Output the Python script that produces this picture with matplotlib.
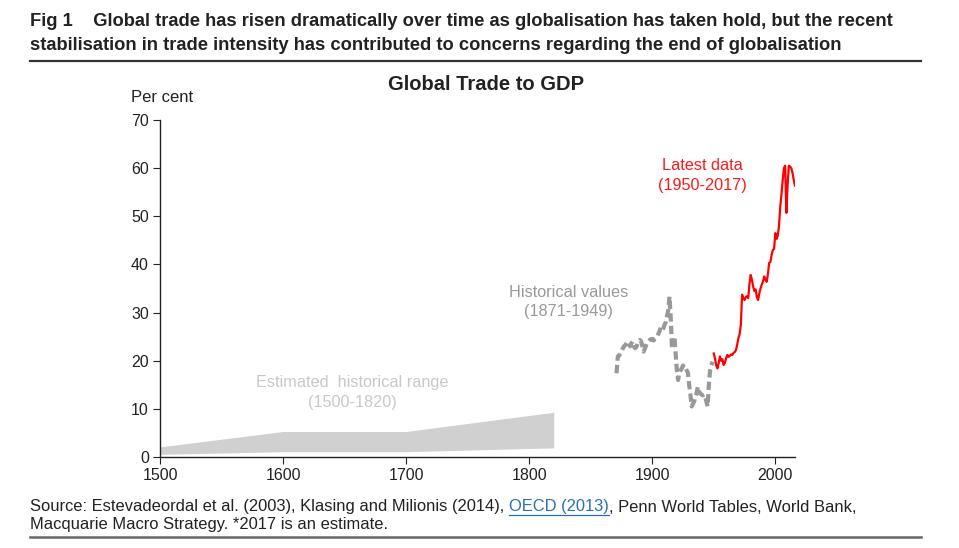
import numpy as np
import matplotlib
matplotlib.use("Agg")
import matplotlib.pyplot as plt
from matplotlib.lines import Line2D

plt.rcParams['font.family'] = ['Liberation Sans', 'DejaVu Sans']

# estimated historical range 1500-1820 (lower / upper bound)
range_years = [1500, 1600, 1700, 1820]
range_low = [0.55, 1.1, 1.1, 1.9]
range_high = [2.1, 5.3, 5.3, 9.3]

# historical values 1871-1949
hist_years = list(range(1871, 1950))
hist_vals = [17.4, 20.9, 21.0, 21.5, 21.9, 22.5, 23.0, 23.2, 23.6, 24.0,
             23.5, 23.0, 23.6, 24.0, 23.0, 22.6, 22.8, 23.5, 24.0, 24.3,
             24.0, 23.0, 21.9, 22.5, 23.2, 23.8, 24.0, 24.3, 24.5, 24.5,
             24.2, 24.5, 24.7, 25.0, 25.6, 26.2, 27.0, 26.5, 26.7, 27.5,
             28.0, 29.2, 30.5, 33.3, 29.0, 23.0, 22.5, 25.0, 21.5, 18.0,
             16.0, 17.5, 18.0, 18.4, 19.0, 18.5, 18.6, 18.0, 17.5, 15.0,
             13.0, 10.5, 11.0, 11.5, 12.5, 13.2, 14.6, 13.5, 13.2, 13.0,
             12.8, 13.0, 12.5, 11.5, 10.5, 15.0, 18.0, 19.0, 19.8]

# latest data 1950-2017
latest_years = list(range(1950, 2018))
latest_vals = [21.5, 20.5, 19.0, 18.4, 19.5, 20.9, 20.0, 20.3, 19.1, 19.6,
               20.5, 21.2, 20.8, 21.0, 21.3, 21.2, 21.6, 21.8, 22.2, 23.3,
               24.7, 25.5, 27.5, 33.7, 33.0, 32.6, 33.2, 33.4, 33.0, 36.0,
               37.8, 36.8, 35.4, 34.5, 34.8, 33.2, 32.6, 34.0, 35.0, 35.8,
               36.5, 37.5, 36.8, 36.4, 38.0, 40.3, 40.5, 42.0, 43.0, 43.2,
               46.5, 45.3, 46.0, 48.0, 52.0, 54.5, 57.5, 60.0, 60.5, 50.7,
               56.5, 60.5, 60.3, 60.0, 59.0, 57.5, 56.3, 56.8]

W, H = 959, 548
fig = plt.figure(figsize=(W / 100, H / 100), dpi=100)
ax = fig.add_axes([160 / W, (H - 457) / H, (795 - 160) / W, (457 - 120) / H])

ax.fill_between(range_years, range_low, range_high, color='#d0d0d0', lw=0)
ax.plot(hist_years, hist_vals, color='#999999', lw=3, ls=(0, (2, 1)))
ax.plot(latest_years, latest_vals, color='#ff0000', lw=1.6)

ax.set_xlim(1500, 2016)
ax.set_ylim(0, 70)
ax.set_xticks([1500, 1600, 1700, 1800, 1900, 2000])
ax.set_yticks(range(0, 71, 10))
for s in ['top', 'right']:
    ax.spines[s].set_visible(False)
for s in ['left', 'bottom']:
    ax.spines[s].set_color('#222222')
    ax.spines[s].set_linewidth(1)
ax.tick_params(axis='both', labelsize=11.5, color='#222222', length=5,
               labelcolor='#222222', pad=3)

ax.text(1941, 58.4, 'Latest data\n(1950-2017)', color='#ff1a1a', fontsize=11.7,
        ha='center', va='center', linespacing=1.4)
ax.text(1832, 32.2, 'Historical values\n(1871-1949)', color='#999999',
        fontsize=11.7, ha='center', va='center', linespacing=1.4)
ax.text(1656, 13.4, 'Estimated  historical range\n(1500-1820)',
        color='#c8c8c8', fontsize=11.7, ha='center', va='center',
        linespacing=1.4)

fig.text(131 / W, 1 - 98 / H, 'Per cent', fontsize=12, color='#222222',
         va='center')
fig.text(486 / W, 1 - 85 / H, 'Global Trade to GDP', fontsize=14.5,
         fontweight='bold', color='#222222', ha='center', va='center')

fig.text(30 / W, 1 - 22 / H, 'Fig 1    Global trade has risen dramatically over time as globalisation has taken hold, but the recent',
         fontsize=13.2, fontweight='bold', color='#222222', va='center')
fig.text(30 / W, 1 - 45 / H, 'stabilisation in trade intensity has contributed to concerns regarding the end of globalisation',
         fontsize=13.2, fontweight='bold', color='#222222', va='center')
fig.add_artist(Line2D([30 / W, 921 / W], [1 - 61 / H] * 2, color='#333333', lw=1.6))
fig.add_artist(Line2D([30 / W, 921 / W], [1 - 537 / H] * 2, color='#666666', lw=1.8))

# source line with a blue underlined link
fig.canvas.draw()
rend = fig.canvas.get_renderer()
parts = [('Source: Estevadeordal et al. (2003), Klasing and Milionis (2014), ', '#222222', False),
         ('OECD (2013)', '#2a6fb5', True),
         (', Penn World Tables, World Bank,', '#222222', False)]
x = 30
y = 507
for txt, col, link in parts:
    t = fig.text(x / W, 1 - y / H, txt, fontsize=11.9, color=col, va='center')
    bb = t.get_window_extent(renderer=rend)
    if link:
        fig.add_artist(Line2D([x / W, (x + bb.width) / W], [1 - (y + 8) / H] * 2,
                              color=col, lw=0.9))
    x += bb.width
fig.text(30 / W, 1 - 524 / H, 'Macquarie Macro Strategy. *2017 is an estimate.',
         fontsize=11.9, color='#222222', va='center')

fig.savefig('out.png', dpi=100)
